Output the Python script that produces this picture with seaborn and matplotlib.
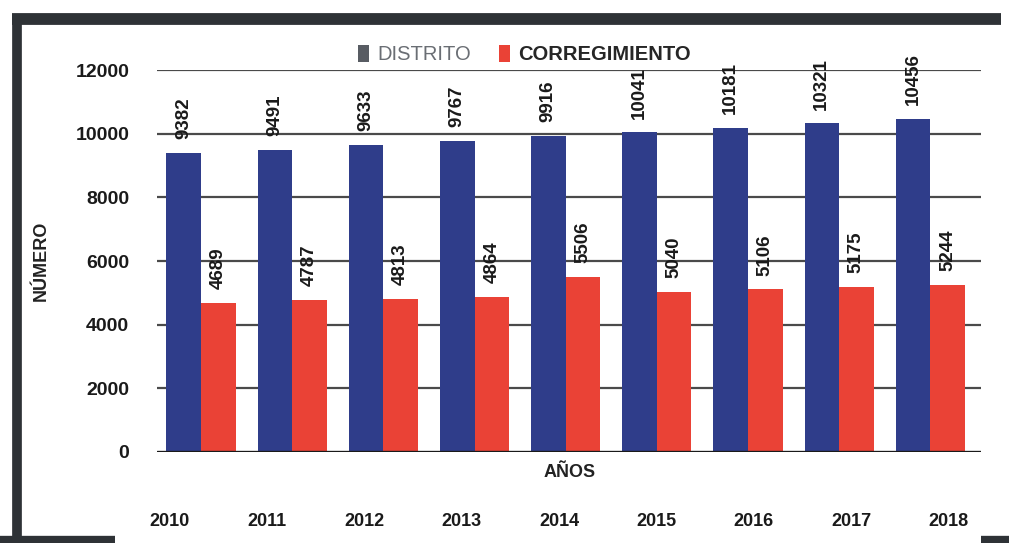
import pandas as pd
import seaborn as sns
import matplotlib.pyplot as plt
from matplotlib.lines import Line2D

years = ['2010', '2011', '2012', '2013', '2014', '2015', '2016', '2017', '2018']
distrito = [9382, 9491, 9633, 9767, 9916, 10041, 10181, 10321, 10456]
corregimiento = [4689, 4787, 4813, 4864, 5506, 5040, 5106, 5175, 5244]
series = ['DISTRITO', 'CORREGIMIENTO']
y_ticks = [0, 2000, 4000, 6000, 8000, 10000, 12000]

df = pd.DataFrame({
    'Año': years * 2,
    'Serie': [series[0]] * len(years) + [series[1]] * len(years),
    'Valor': distrito + corregimiento,
})

sns.set_style('white')
plt.rcParams['font.family'] = ['Liberation Sans', 'DejaVu Sans']

fig = plt.figure(figsize=(10.09, 5.43), dpi=100)
ax = fig.add_axes([0.1556, 0.1676, 0.817, 0.7034])

sns.barplot(data=df, x='Año', y='Valor', hue='Serie', hue_order=series,
            palette=['#2f3d8a', '#ea4236'], width=0.76, saturation=1,
            linewidth=0, edgecolor='none', ax=ax, zorder=3)

# etiquetas de valores sobre las barras
for cont in ax.containers:
    ax.bar_label(cont, rotation=90, padding=10, fontsize=13.5, fontweight='bold',
                 color='#1a1a1a', family=['Liberation Sans Narrow', 'Liberation Sans'])

ax.set_xlim(-0.483, 8.56)
ax.set_ylim(0, 12000)
ax.set_yticks(y_ticks)
ax.set_yticklabels([str(t) for t in y_ticks], fontsize=14, fontweight='bold', color='#1a1a1a')
ax.set_xticks([])
ax.tick_params(axis='y', length=0, pad=20)
for t in y_ticks[1:]:
    ax.axhline(t, color='#4a4a4a', lw=1.6, zorder=1)
ax.axhline(0, color='#1a1a1a', lw=2.4, zorder=4)
for s in ax.spines.values():
    s.set_visible(False)

ax.set_xlabel('AÑOS', fontsize=13, fontweight='bold', labelpad=9, color='#222222')
ax.set_ylabel('NÚMERO', fontsize=13, fontweight='bold', color='#222222')
ax.yaxis.set_label_coords(-0.13, 0.5)

# leyenda arriba
handles, labels = ax.get_legend_handles_labels()
leg = ax.legend(handles, labels, loc='center', bbox_to_anchor=(0.52, 0.899),
                bbox_transform=fig.transFigure, ncol=2, frameon=False,
                fontsize=14.5, handlelength=0.55, handleheight=0.9,
                handletextpad=0.4, columnspacing=1.4)
leg.legend_handles[0].set_facecolor('#585c63')
leg.get_texts()[0].set_color('#6a6e74')
leg.get_texts()[1].set_fontweight('bold')

# fila de años debajo del eje
ax_years = fig.add_axes([0.0, 0.02, 1.0, 0.04])
ax_years.set_xlim(-1.747, 8.623)
ax_years.set_ylim(0, 1)
ax_years.axis('off')
for i, yr in enumerate(years):
    ax_years.text(i, 0.5, yr, ha='center', va='center', fontsize=13,
                  fontweight='bold', color='#1a1a1a')

# marco oscuro del escaneo
frame_col = '#2e3236'
kw = dict(color=frame_col, transform=fig.transFigure, solid_capstyle='butt')
fig.add_artist(Line2D([0.012, 0.992], [0.965, 0.965], lw=8.5, **kw))
fig.add_artist(Line2D([0.017, 0.017], [0.972, 0.0], lw=7, **kw))
fig.add_artist(Line2D([0.0, 0.114], [0.006, 0.006], lw=6, **kw))
fig.add_artist(Line2D([0.972, 1.0], [0.006, 0.006], lw=6, **kw))

fig.savefig('out.png', dpi=100)
